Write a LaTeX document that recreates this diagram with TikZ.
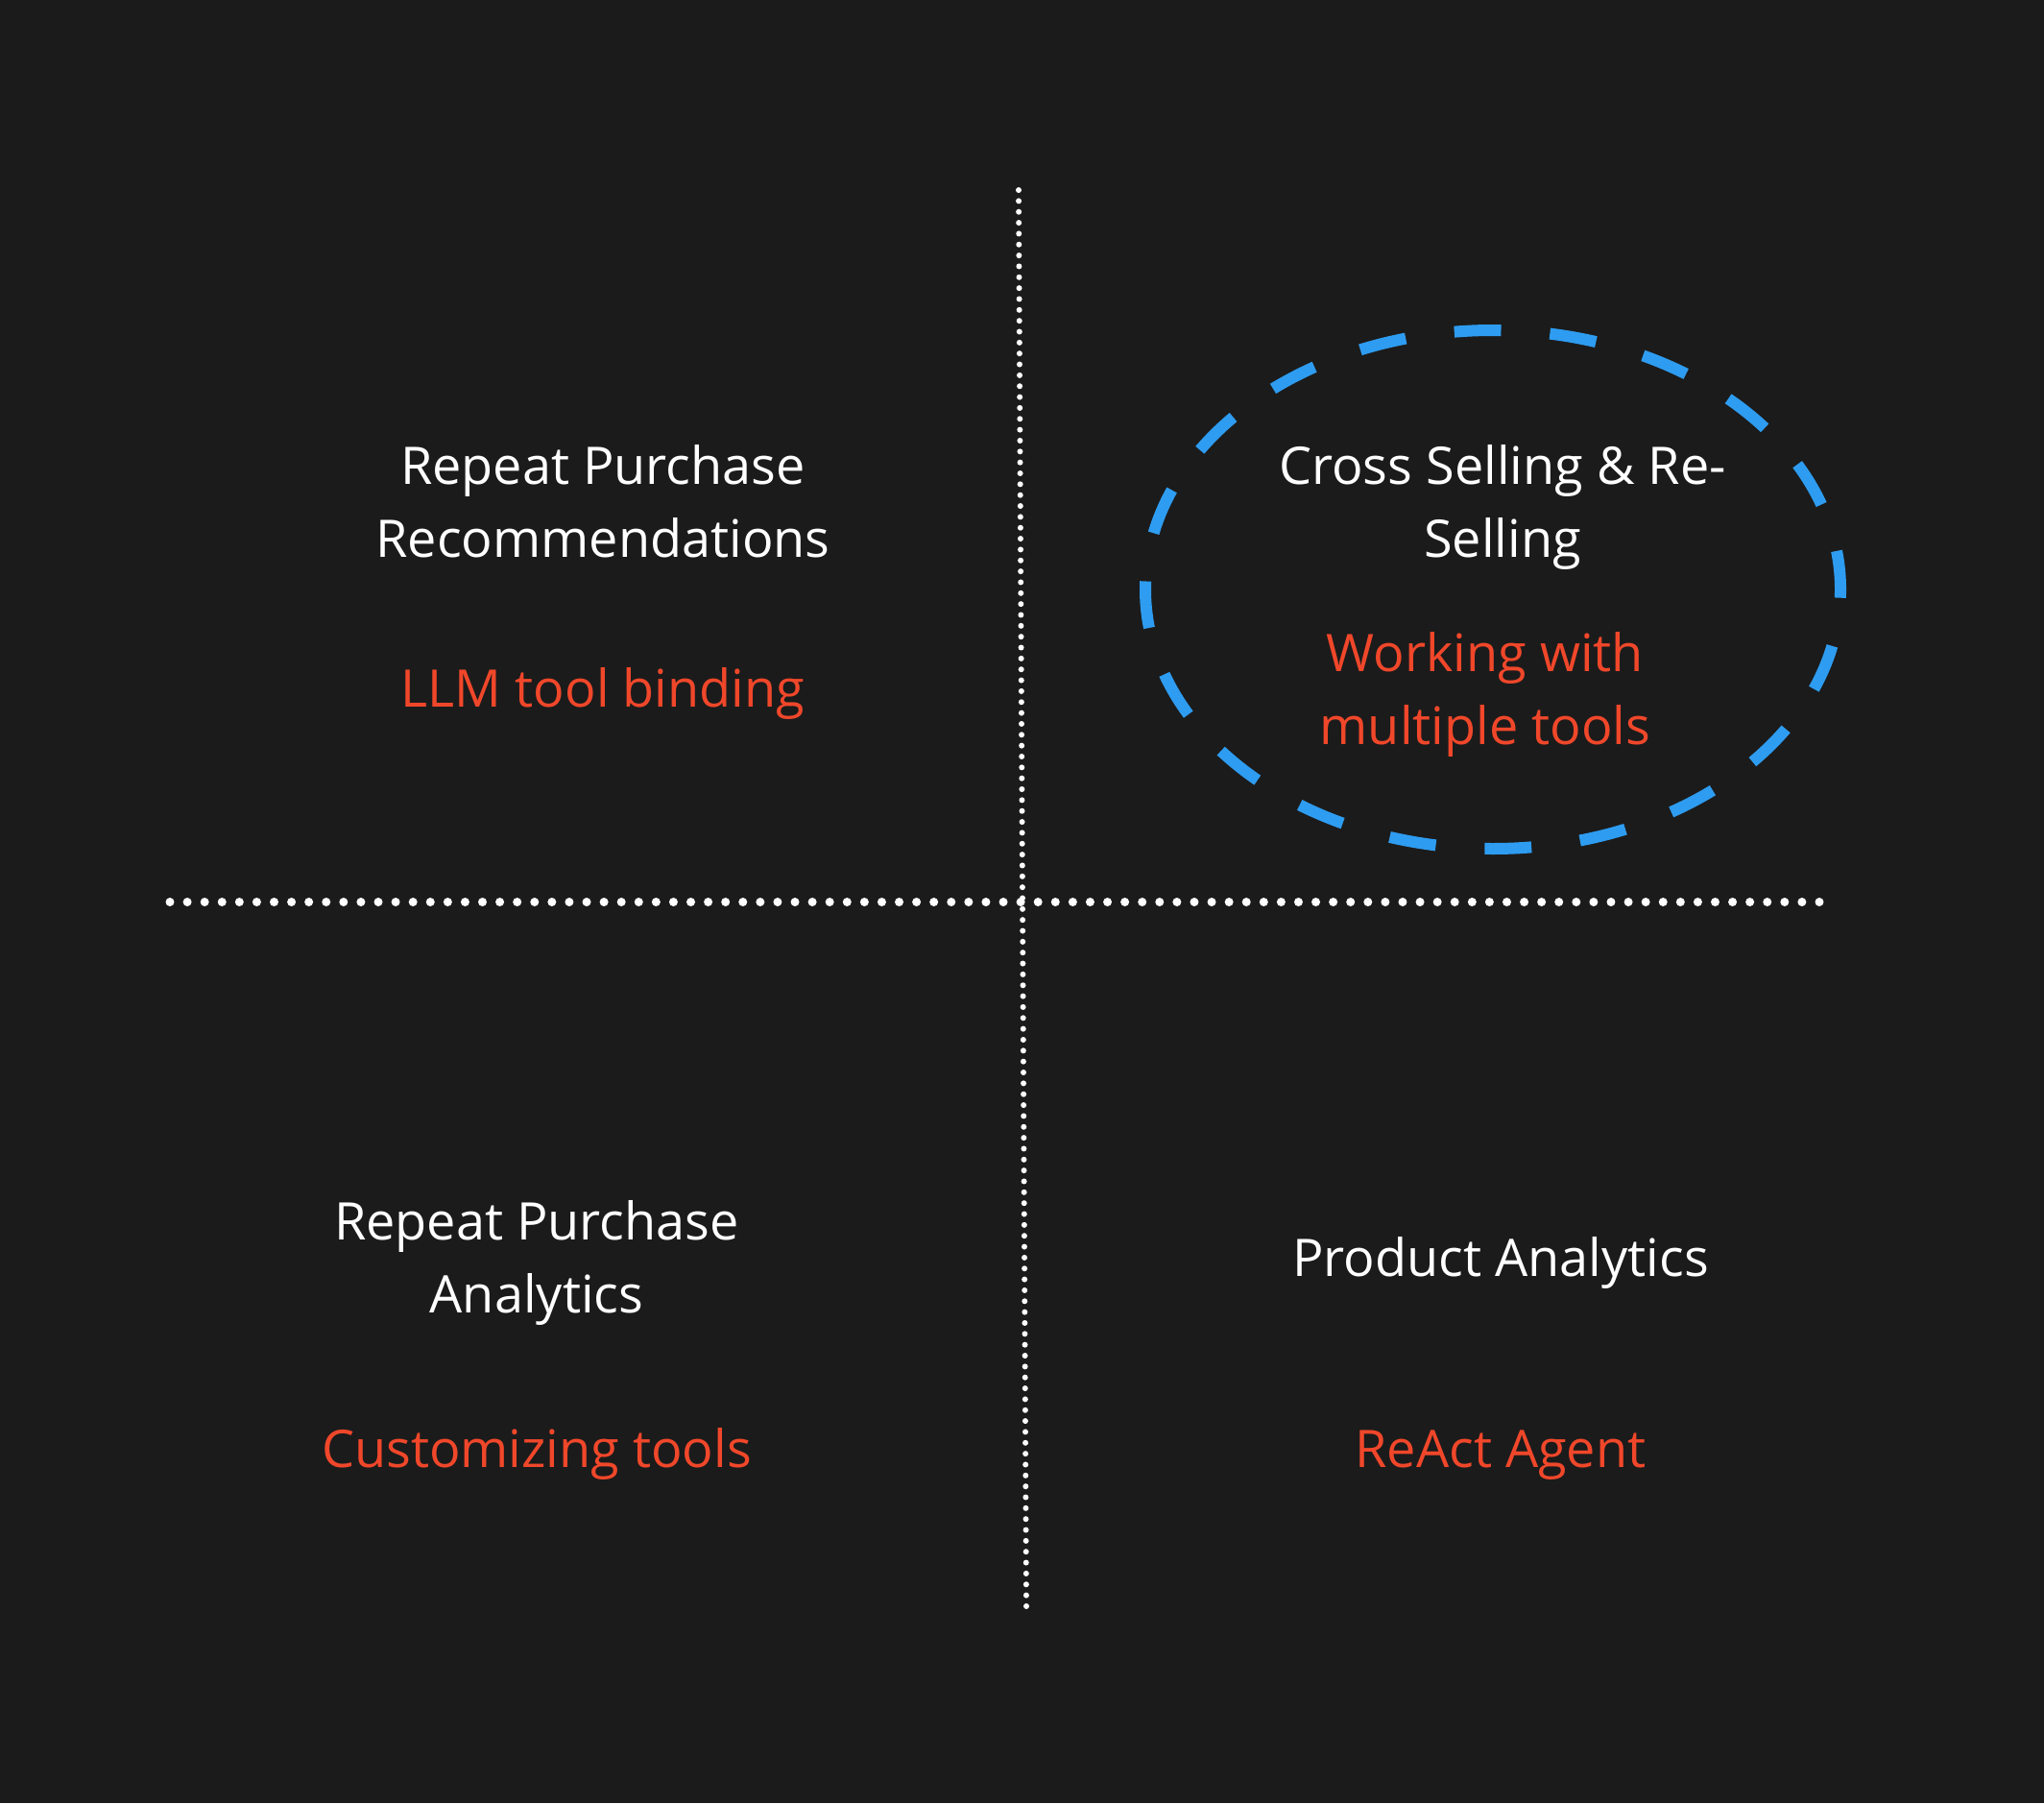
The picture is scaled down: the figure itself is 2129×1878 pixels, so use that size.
\documentclass[tikz,border=0pt]{standalone}
\usepackage{fontspec}
\setmainfont{Open Sans}
\definecolor{bg}{HTML}{1B1B1B}
\definecolor{accent}{HTML}{F0472A}
\definecolor{ringblue}{HTML}{2E9CF0}
\begin{document}
\begin{tikzpicture}[x=0.5pt,y=-0.5pt,
  title/.style={text=white, font=\fontsize{27}{38}\selectfont, align=center, anchor=base, inner sep=0pt},
  sub/.style={title, text=accent},
  vdots/.style={white, line width=3pt, line cap=round, dash pattern=on 0pt off 5.673pt},
  hdots/.style={white, line width=4.5pt, line cap=round, dash pattern=on 0pt off 9.042pt},
  ring/.style={ringblue, line width=6pt, dash pattern=on 24.4pt off 25.5pt, dash phase=4.2pt}]
\fill[bg] (0,0) rectangle (2129,1878);
\useasboundingbox (0,0) rectangle (2129,1878);
\coordinate (vtop) at (1061,198);
\coordinate (vbot) at (1069,1673);
\coordinate (hl) at (177,939.5);
\coordinate (hr) at (1895,939.5);
\draw[vdots] (vtop) -- (vbot);
\draw[hdots] (hl) -- (hr);
\draw[ring] (1555,614) ellipse [x radius=181pt, y radius=135pt];
% multi-line nodes: base anchor sits on the last line's baseline
\node[title] (tl) at (628,580) {Repeat Purchase\\Recommendations};
\node[sub] (tlsub) at (628,736) {LLM tool binding};
\node[title] (tr) at (1565,580) {Cross Selling \& Re-\\Selling};
\node[sub] (trsub) at (1547,775) {Working with\\multiple tools};
\node[title] (bl) at (559,1367) {Repeat Purchase\\Analytics};
\node[sub] (blsub) at (559,1528) {Customizing tools};
\node[title] (br) at (1563,1329) {Product Analytics};
\node[sub] (brsub) at (1563,1528) {ReAct Agent};
\end{tikzpicture}
\end{document}
